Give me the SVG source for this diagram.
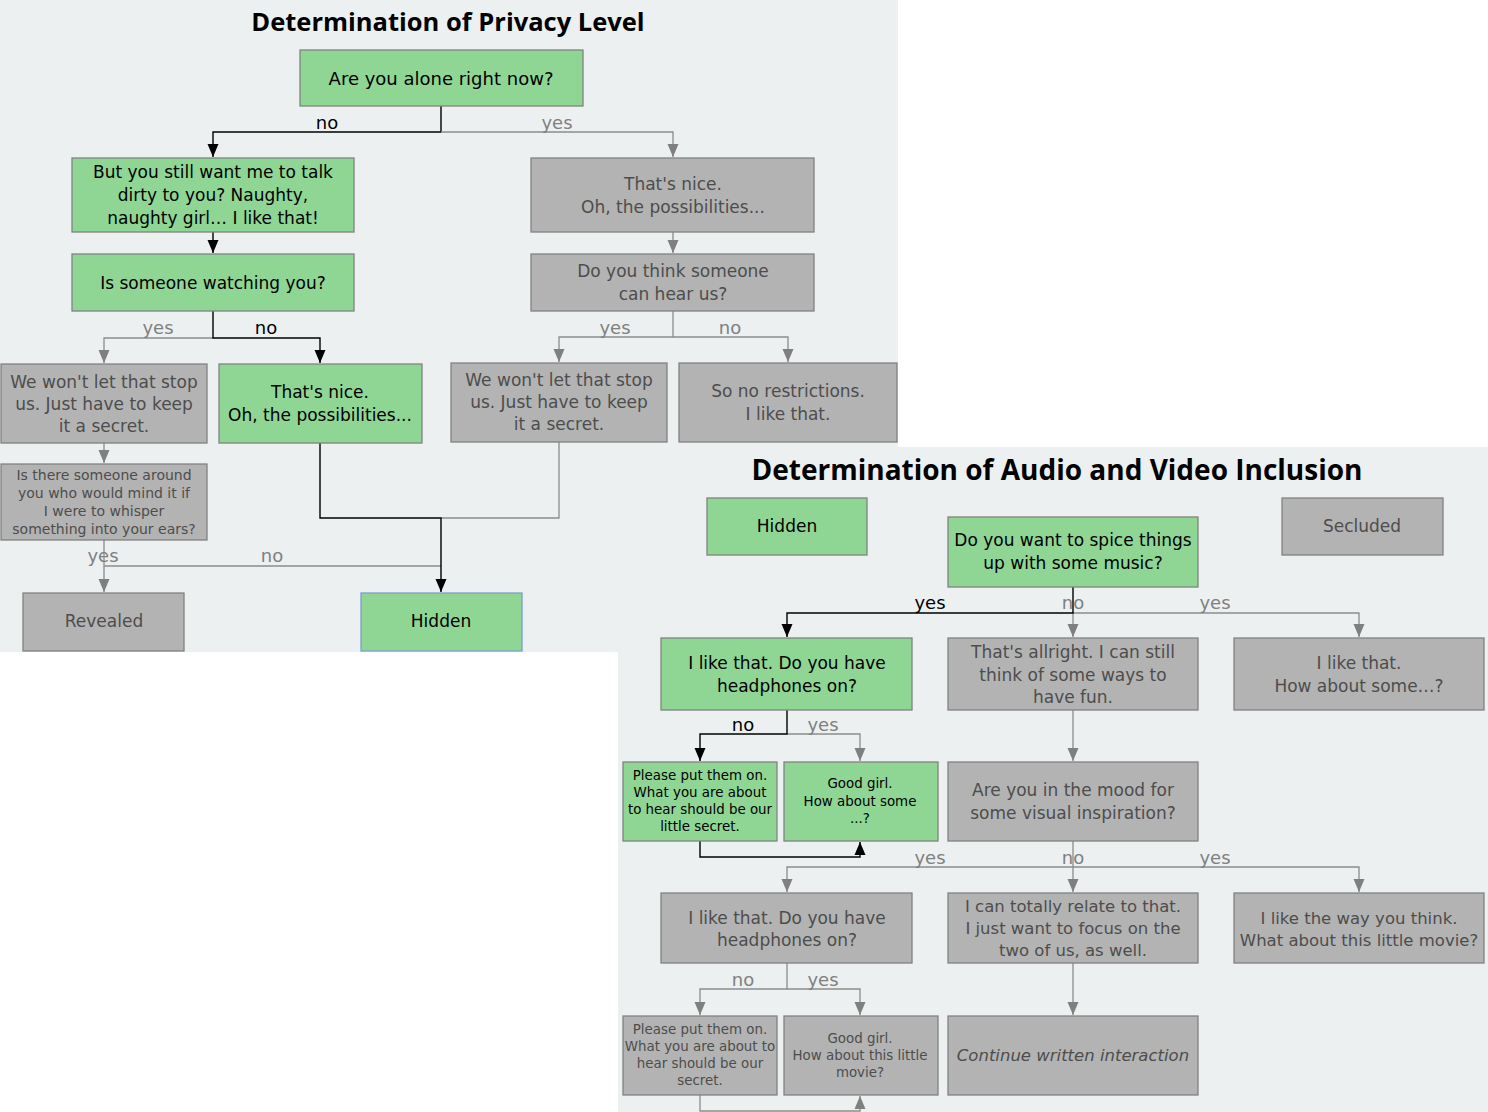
<svg xmlns="http://www.w3.org/2000/svg" width="1488" height="1112" viewBox="0 0 1488 1112">
<defs>
<marker id="ab" markerUnits="userSpaceOnUse" markerWidth="12" markerHeight="14" refX="5.5" refY="13" viewBox="0 0 11 14">
<path d="M0,0 L11,0 L5.5,13 Z" fill="#000"/>
</marker>
<marker id="ag" markerUnits="userSpaceOnUse" markerWidth="12" markerHeight="14" refX="5.5" refY="13" viewBox="0 0 11 14">
<path d="M0,0 L11,0 L5.5,13 Z" fill="#7f7f7f"/>
</marker>
<marker id="abu" markerUnits="userSpaceOnUse" markerWidth="12" markerHeight="14" refX="5.5" refY="1" viewBox="0 0 11 14">
<path d="M0,14 L11,14 L5.5,1 Z" fill="#000"/>
</marker>
<marker id="agu" markerUnits="userSpaceOnUse" markerWidth="12" markerHeight="14" refX="5.5" refY="1" viewBox="0 0 11 14">
<path d="M0,14 L11,14 L5.5,1 Z" fill="#7f7f7f"/>
</marker>
</defs>
<style>
text{font-family:"DejaVu Sans","Liberation Sans",sans-serif;text-anchor:middle;dominant-baseline:central}
.g rect{fill:#8fd694;stroke:#828282;stroke-width:1.3}
.r rect{fill:#b3b3b3;stroke:#828282;stroke-width:1.3}
.g text{fill:#000;font-size:17px}
.r text{fill:#4d4d4d;font-size:17px}
.s text{font-size:13.4px}
.j text{font-size:14px}
.t{font-family:"Open Sans","DejaVu Sans",sans-serif;font-weight:bold;fill:#000}
.cb{fill:none;stroke:#000;stroke-width:1.4}
.cg{fill:none;stroke:#8c8c8c;stroke-width:1.3}
.lb{fill:#000;font-size:18px}
.lg{fill:#808080;font-size:18px}
</style>
<rect x="0" y="0" width="898" height="652" fill="#ecf0f1"/>
<rect x="618" y="447" width="870" height="665" fill="#ecf0f1"/>
<text class="t" x="448" y="21" font-size="25.5">Determination of Privacy Level</text>
<text class="t" x="1057" y="469" font-size="28">Determination of Audio and Video Inclusion</text>

<g id="connectors">
<path class="cb" d="M441,106 V132 H213 V157" marker-end="url(#ab)"/>
<path class="cg" d="M441,132 H673 V157" marker-end="url(#ag)"/>
<path class="cb" d="M213,232 V253" marker-end="url(#ab)"/>
<path class="cg" d="M213,338 H104 V363" marker-end="url(#ag)"/>
<path class="cb" d="M213,311 V338 H320 V363" marker-end="url(#ab)"/>
<path class="cg" d="M673,232 V253" marker-end="url(#ag)"/>
<path class="cg" d="M673,311 V337 H559 V362" marker-end="url(#ag)"/>
<path class="cg" d="M673,337 H788 V362" marker-end="url(#ag)"/>
<path class="cg" d="M104,443 V463" marker-end="url(#ag)"/>
<path class="cg" d="M104,540 V592" marker-end="url(#ag)"/>
<path class="cg" d="M104,566 H441"/>
<path class="cg" d="M559,442 V518 H441"/>
<path class="cb" d="M320,443 V518 H441 V592" marker-end="url(#ab)"/>
<path class="cg" d="M1073,613 V637" marker-end="url(#ag)"/>
<path class="cg" d="M1073,613 H1359 V637" marker-end="url(#ag)"/>
<path class="cb" d="M1073,587 V613 H787 V637" marker-end="url(#ab)"/>
<path class="cg" d="M787,734 H860 V761" marker-end="url(#ag)"/>
<path class="cb" d="M787,710 V734 H700 V761" marker-end="url(#ab)"/>
<path class="cb" d="M700,841 V857 H860 V842" marker-end="url(#abu)"/>
<path class="cg" d="M1073,710 V761" marker-end="url(#ag)"/>
<path class="cg" d="M1073,841 V867 H787 V892" marker-end="url(#ag)"/>
<path class="cg" d="M1073,867 V892" marker-end="url(#ag)"/>
<path class="cg" d="M1073,867 H1359 V892" marker-end="url(#ag)"/>
<path class="cg" d="M787,963 V989 H700 V1015" marker-end="url(#ag)"/>
<path class="cg" d="M787,989 H860 V1015" marker-end="url(#ag)"/>
<path class="cg" d="M700,1095 V1111 H860 V1096" marker-end="url(#agu)"/>
<path class="cg" d="M1073,963 V1015" marker-end="url(#ag)"/>
<text class="lb" x="327" y="122">no</text>
<text class="lg" x="557" y="122">yes</text>
<text class="lg" x="158" y="327">yes</text>
<text class="lb" x="266" y="327">no</text>
<text class="lg" x="615" y="327">yes</text>
<text class="lg" x="730" y="327">no</text>
<text class="lg" x="103" y="555">yes</text>
<text class="lg" x="272" y="555">no</text>
<text class="lb" x="930" y="602">yes</text>
<text class="lg" x="1073" y="602">no</text>
<text class="lg" x="1215" y="602">yes</text>
<text class="lb" x="743" y="724">no</text>
<text class="lg" x="823" y="724">yes</text>
<text class="lg" x="930" y="857">yes</text>
<text class="lg" x="1073" y="857">no</text>
<text class="lg" x="1215" y="857">yes</text>
<text class="lg" x="743" y="979">no</text>
<text class="lg" x="823" y="979">yes</text>
</g>

<g id="alone" class="g"><rect x="300" y="50" width="283" height="56"/><text x="441" y="78" style="font-size:18px">Are you alone right now?</text></g>
<g id="still-want" class="g"><rect x="72" y="158" width="282" height="74"/><text x="213" y="172">But you still want me to talk</text><text x="213" y="195">dirty to you? Naughty,</text><text x="213" y="218">naughty girl… I like that!</text></g>
<g id="watching" class="g"><rect x="72" y="254" width="282" height="57"/><text x="213" y="283">Is someone watching you?</text></g>
<g id="nice-grey" class="r"><rect x="531" y="158" width="283" height="74"/><text x="673" y="184">That's nice.</text><text x="673" y="207">Oh, the possibilities...</text></g>
<g id="hear-us" class="r"><rect x="531" y="254" width="283" height="57"/><text x="673" y="271">Do you think someone</text><text x="673" y="294">can hear us?</text></g>
<g id="secret-1" class="r"><rect x="1" y="364" width="206" height="79"/><text x="104" y="382">We won't let that stop</text><text x="104" y="404">us. Just have to keep</text><text x="104" y="426">it a secret.</text></g>
<g id="nice-green" class="g"><rect x="219" y="364" width="203" height="79"/><text x="320" y="392">That's nice.</text><text x="320" y="415">Oh, the possibilities...</text></g>
<g id="secret-2" class="r"><rect x="451" y="363" width="216" height="79"/><text x="559" y="380">We won't let that stop</text><text x="559" y="402">us. Just have to keep</text><text x="559" y="424">it a secret.</text></g>
<g id="no-restrictions" class="r"><rect x="679" y="363" width="218" height="79"/><text x="788" y="391">So no restrictions.</text><text x="788" y="414">I like that.</text></g>
<g id="whisper" class="r j"><rect x="1" y="464" width="206" height="76"/><text x="104" y="475">Is there someone around</text><text x="104" y="493">you who would mind it if</text><text x="104" y="511">I were to whisper</text><text x="104" y="529">something into your ears?</text></g>
<g id="revealed" class="r"><rect x="23" y="593" width="161" height="58"/><text x="104" y="621">Revealed</text></g>
<g id="hidden-1" class="g"><rect x="361" y="593" width="161" height="58" style="stroke:#7a9fd0"/><text x="441" y="621">Hidden</text></g>

<g id="hidden-2" class="g"><rect x="707" y="498" width="160" height="57"/><text x="787" y="526">Hidden</text></g>
<g id="music" class="g"><rect x="948" y="517" width="250" height="70"/><text x="1073" y="540">Do you want to spice things</text><text x="1073" y="563">up with some music?</text></g>
<g id="secluded" class="r"><rect x="1282" y="498" width="161" height="57"/><text x="1362" y="526">Secluded</text></g>
<g id="headphones-1" class="g"><rect x="661" y="638" width="251" height="72"/><text x="787" y="663">I like that. Do you have</text><text x="787" y="686">headphones on?</text></g>
<g id="allright" class="r"><rect x="948" y="638" width="250" height="72"/><text x="1073" y="652">That's allright. I can still</text><text x="1073" y="675">think of some ways to</text><text x="1073" y="697">have fun.</text></g>
<g id="how-about-some" class="r"><rect x="1234" y="638" width="250" height="72"/><text x="1359" y="663">I like that.</text><text x="1359" y="686">How about some…?</text></g>
<g id="put-on-1" class="g s"><rect x="623" y="762" width="154" height="79"/><text x="700" y="775">Please put them on.</text><text x="700" y="792">What you are about</text><text x="700" y="809">to hear should be our</text><text x="700" y="826">little secret.</text></g>
<g id="good-girl-1" class="g s"><rect x="784" y="762" width="154" height="79"/><text x="860" y="783">Good girl.</text><text x="860" y="801">How about some</text><text x="860" y="818">...?</text></g>
<g id="visual" class="r"><rect x="948" y="762" width="250" height="79"/><text x="1073" y="790">Are you in the mood for</text><text x="1073" y="813">some visual inspiration?</text></g>
<g id="headphones-2" class="r"><rect x="661" y="893" width="251" height="70"/><text x="787" y="918">I like that. Do you have</text><text x="787" y="940">headphones on?</text></g>
<g id="relate" class="r"><rect x="948" y="893" width="250" height="70"/><text x="1073" y="906" style="font-size:16.5px">I can totally relate to that.</text><text x="1073" y="928" style="font-size:16.5px">I just want to focus on the</text><text x="1073" y="950" style="font-size:16.5px">two of us, as well.</text></g>
<g id="way-you-think" class="r"><rect x="1234" y="893" width="250" height="70"/><text x="1359" y="918" style="font-size:16.5px">I like the way you think.</text><text x="1359" y="940" style="font-size:16.5px">What about this little movie?</text></g>
<g id="put-on-2" class="r s"><rect x="623" y="1016" width="154" height="79"/><text x="700" y="1029">Please put them on.</text><text x="700" y="1046">What you are about to</text><text x="700" y="1063">hear should be our</text><text x="700" y="1080">secret.</text></g>
<g id="good-girl-2" class="r s"><rect x="784" y="1016" width="154" height="79"/><text x="860" y="1038">Good girl.</text><text x="860" y="1055">How about this little</text><text x="860" y="1072">movie?</text></g>
<g id="continue" class="r"><rect x="948" y="1016" width="250" height="79"/><text x="1073" y="1055" style="font-size:16.5px;font-style:italic">Continue written interaction</text></g>
</svg>
